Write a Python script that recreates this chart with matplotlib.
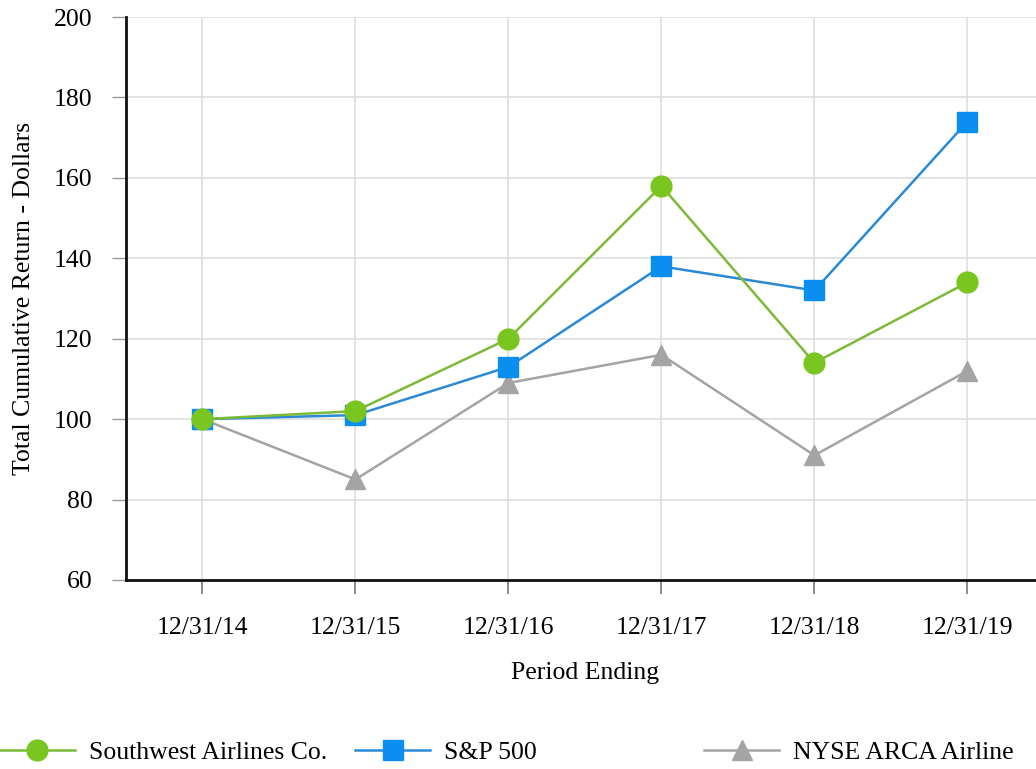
import matplotlib
matplotlib.use("Agg")
import matplotlib.pyplot as plt

# ── DATA ──────────────────────────────────────────────────────────────────
PERIODS = ["12/31/14", "12/31/15", "12/31/16", "12/31/17", "12/31/18", "12/31/19"]
SOUTHWEST = [100, 102, 120, 158, 114, 134]
SP500 = [100, 101, 113, 138, 132, 174]
NYSE_ARCA = [100, 85, 109, 116, 91, 112]
Y_TICKS = [60, 80, 100, 120, 140, 160, 180, 200]

GREEN = "#7ac520"
BLUE = "#0a8ff0"
GRAY = "#a4a4a4"
FS = 18.5

plt.rcParams["font.family"] = ["Liberation Serif", "DejaVu Serif"]

fig = plt.figure(figsize=(10.36, 7.69), dpi=100)
ax = fig.add_axes([0.1216, 0.2458, 0.886, 0.732])

x = list(range(len(PERIODS)))

ln_gray, = ax.plot(x, NYSE_ARCA, color=GRAY, lw=1.8, marker="^", ms=15,
                   mfc=GRAY, mec=GRAY, zorder=3, label="NYSE ARCA Airline")
ln_blue, = ax.plot(x, SP500, color="#2a8ad6", lw=1.8, marker="s", ms=15,
                   mfc=BLUE, mec=BLUE, zorder=4, label="S&P 500")
ln_green, = ax.plot(x, SOUTHWEST, color="#7cba38", lw=1.8, marker="o", ms=15,
                    mfc=GREEN, mec=GREEN, zorder=5, label="Southwest Airlines Co.")

ax.set_xlim(-0.5, 5.5)
ax.set_ylim(60, 200)
ax.set_xticks(x)
ax.set_xticklabels(PERIODS)
ax.set_yticks(Y_TICKS)

ax.grid(True, color="#dedede", lw=1.2)
ax.set_axisbelow(True)

for s in ["top", "right"]:
    ax.spines[s].set_visible(False)
for s in ["left", "bottom"]:
    ax.spines[s].set_linewidth(2)
    ax.spines[s].set_color("#111111")

ax.tick_params(axis="y", length=10, width=1, color="#999999", labelsize=FS, pad=14)
ax.tick_params(axis="x", length=10, width=1.2, color="#777777", labelsize=FS, pad=17)

ax.set_xlabel("Period Ending", fontsize=FS, labelpad=16)
ax.set_ylabel("Total Cumulative Return - Dollars", fontsize=FS, labelpad=14)

# legend entries spread along the bottom
for handle, xpos in [(ln_green, 0.0), (ln_blue, 0.343), (ln_gray, 0.680)]:
    fig.legend(handles=[handle], loc="center left", bbox_to_anchor=(xpos, 0.022),
               frameon=False, fontsize=FS, handlelength=2.9, handletextpad=0.55,
               borderaxespad=0, borderpad=0)

fig.savefig("out.png", dpi=100)
